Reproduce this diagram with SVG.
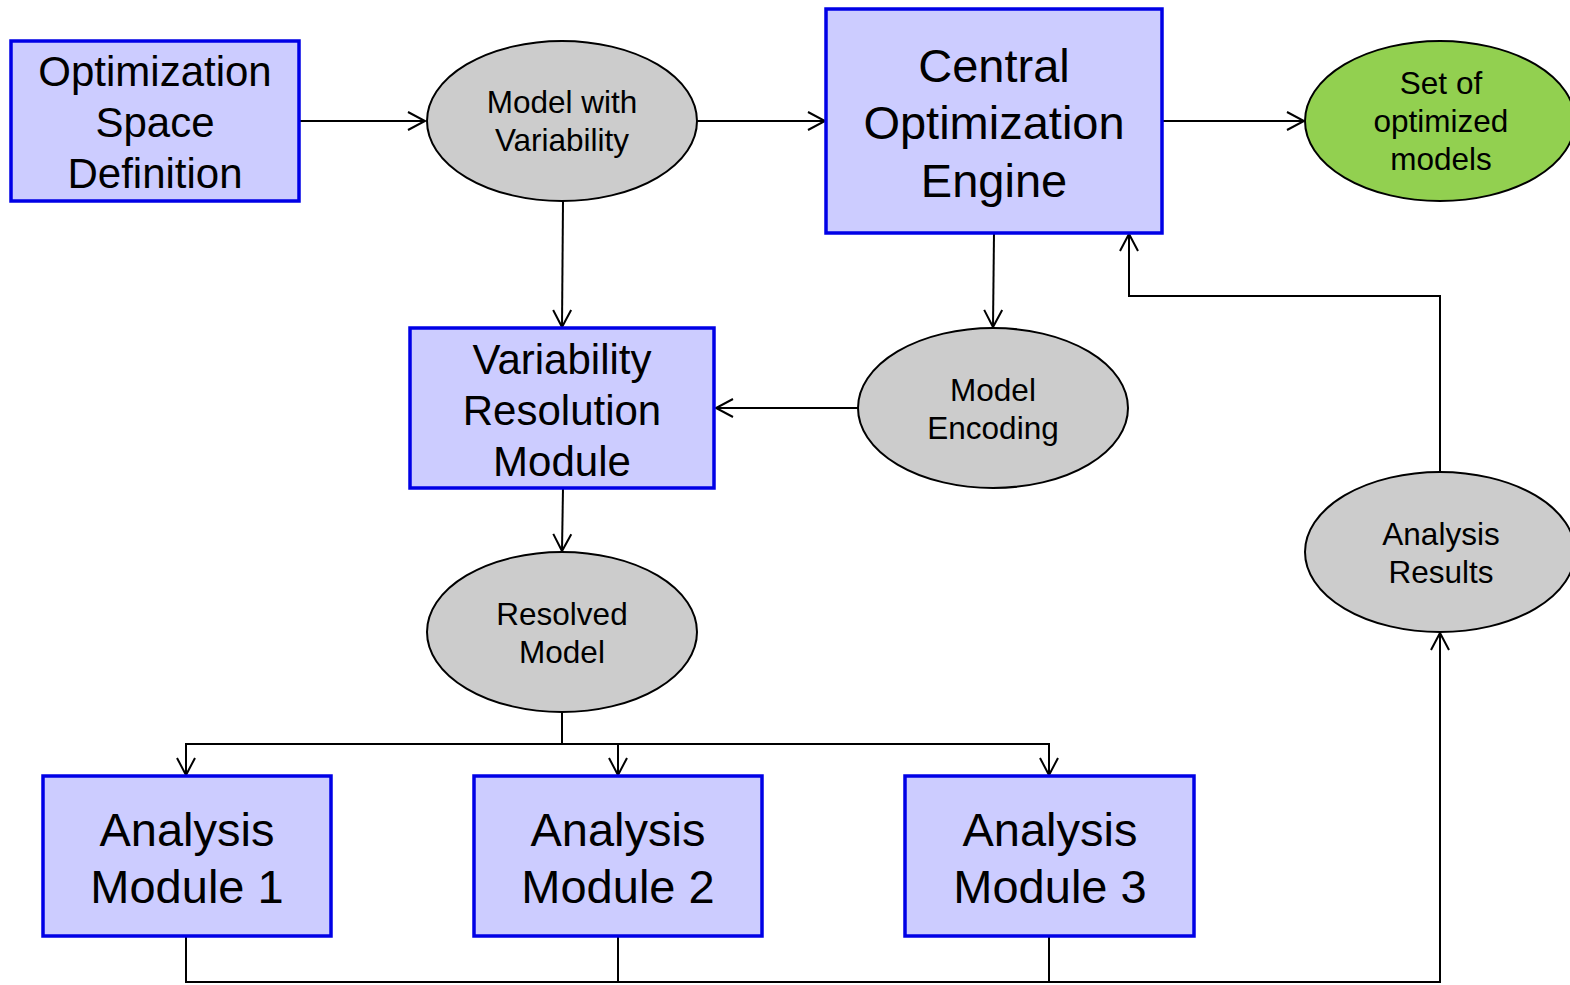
<svg xmlns="http://www.w3.org/2000/svg" width="1570" height="985" viewBox="0 0 1570 985">
<defs>
<style>
.box{fill:#ccccff;stroke:#0000e6;stroke-width:3.5}
.ell{fill:#cccccc;stroke:#000;stroke-width:2}
.grn{fill:#92d050;stroke:#000;stroke-width:2}
.t{font-family:"Liberation Sans",Arial,sans-serif;fill:#000;text-anchor:middle}
.c{fill:none;stroke:#000;stroke-width:2}
</style>
<marker id="a" markerWidth="22" markerHeight="22" refX="19" refY="11" orient="auto" markerUnits="userSpaceOnUse">
<path d="M2,2 L19,11 L2,20" fill="none" stroke="#000" stroke-width="2"/>
</marker>
</defs>
<rect width="1570" height="985" fill="#fff"/>
<g id="connectors">
<path class="c" d="M299,121 H425" marker-end="url(#a)"/>
<path class="c" d="M697,121 H825" marker-end="url(#a)"/>
<path class="c" d="M1162,121 H1304" marker-end="url(#a)"/>
<path class="c" d="M563,201 L562,327" marker-end="url(#a)"/>
<path class="c" d="M994,233 L993,327" marker-end="url(#a)"/>
<path class="c" d="M858,408 H716" marker-end="url(#a)"/>
<path class="c" d="M563,488 L562,551" marker-end="url(#a)"/>
<path class="c" d="M562,712 V744 H186 V775" marker-end="url(#a)"/>
<path class="c" d="M562,744 H618 V775" marker-end="url(#a)"/>
<path class="c" d="M618,744 H1049 V775" marker-end="url(#a)"/>
<path class="c" d="M186,936 V982 H1440 V633" marker-end="url(#a)"/>
<path class="c" d="M618,936 V982"/>
<path class="c" d="M1049,936 V982"/>
<path class="c" d="M1440,472 V296 H1129 V234" marker-end="url(#a)"/>
</g>
<g id="n1"><rect class="box" x="11" y="41" width="288" height="160"/>
<text class="t" font-size="42" x="155" y="86">Optimization</text>
<text class="t" font-size="42" x="155" y="137">Space</text>
<text class="t" font-size="42" x="155" y="188">Definition</text></g>
<g id="n2"><ellipse class="ell" cx="562" cy="121" rx="135" ry="80"/>
<text class="t" font-size="31.5" x="562" y="113">Model with</text>
<text class="t" font-size="31.5" x="562" y="151">Variability</text></g>
<g id="n3"><rect class="box" x="826" y="9" width="336" height="224"/>
<text class="t" font-size="47" x="994" y="82">Central</text>
<text class="t" font-size="47" x="994" y="139">Optimization</text>
<text class="t" font-size="47" x="994" y="197">Engine</text></g>
<g id="n4"><ellipse class="grn" cx="1440" cy="121" rx="135" ry="80"/>
<text class="t" font-size="31.5" x="1441" y="94">Set of</text>
<text class="t" font-size="31.5" x="1441" y="132">optimized</text>
<text class="t" font-size="31.5" x="1441" y="170">models</text></g>
<g id="n5"><rect class="box" x="410" y="328" width="304" height="160"/>
<text class="t" font-size="42" x="562" y="374">Variability</text>
<text class="t" font-size="42" x="562" y="425">Resolution</text>
<text class="t" font-size="42" x="562" y="476">Module</text></g>
<g id="n6"><ellipse class="ell" cx="993" cy="408" rx="135" ry="80"/>
<text class="t" font-size="31.5" x="993" y="401">Model</text>
<text class="t" font-size="31.5" x="993" y="439">Encoding</text></g>
<g id="n7"><ellipse class="ell" cx="562" cy="632" rx="135" ry="80"/>
<text class="t" font-size="31.5" x="562" y="625">Resolved</text>
<text class="t" font-size="31.5" x="562" y="663">Model</text></g>
<g id="n8"><ellipse class="ell" cx="1440" cy="552" rx="135" ry="80"/>
<text class="t" font-size="31.5" x="1441" y="545">Analysis</text>
<text class="t" font-size="31.5" x="1441" y="583">Results</text></g>
<g id="n9"><rect class="box" x="43" y="776" width="288" height="160"/>
<text class="t" font-size="47" x="187" y="846">Analysis</text>
<text class="t" font-size="47" x="187" y="903">Module 1</text></g>
<g id="n10"><rect class="box" x="474" y="776" width="288" height="160"/>
<text class="t" font-size="47" x="618" y="846">Analysis</text>
<text class="t" font-size="47" x="618" y="903">Module 2</text></g>
<g id="n11"><rect class="box" x="905" y="776" width="289" height="160"/>
<text class="t" font-size="47" x="1050" y="846">Analysis</text>
<text class="t" font-size="47" x="1050" y="903">Module 3</text></g>
</svg>
